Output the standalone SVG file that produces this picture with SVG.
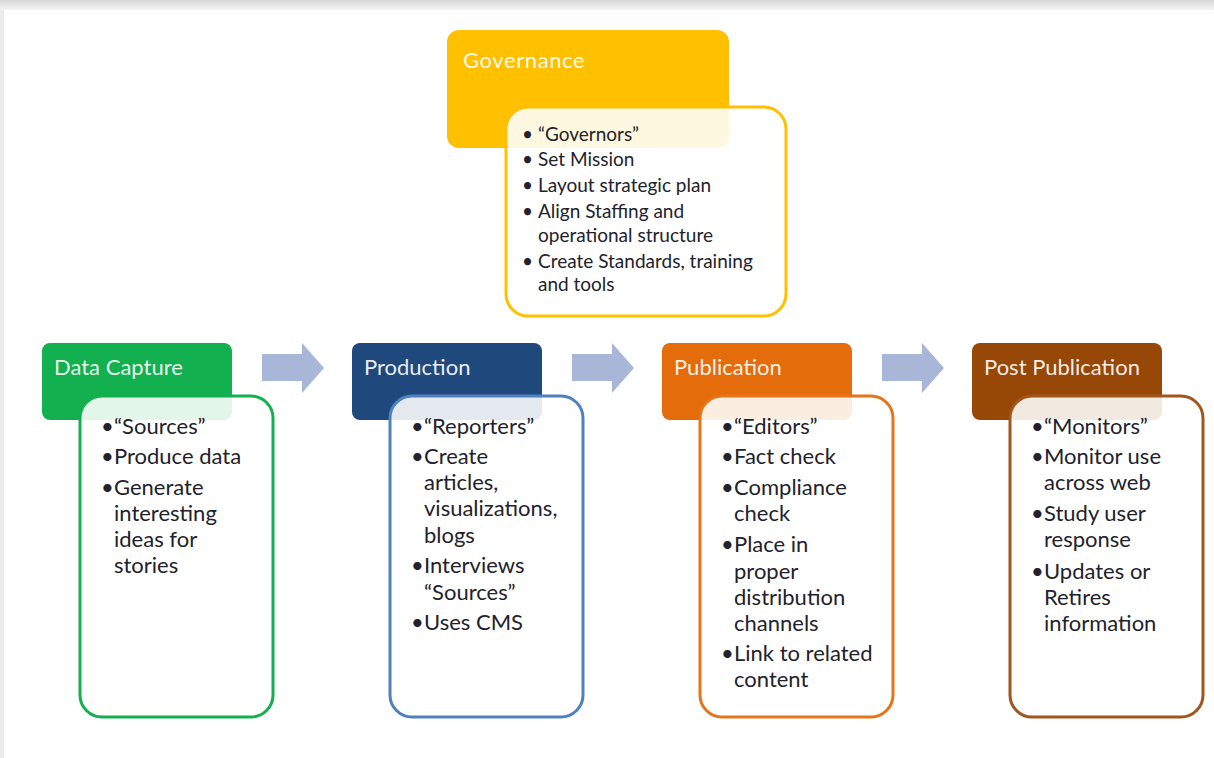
<svg xmlns="http://www.w3.org/2000/svg" width="1214" height="758" viewBox="0 0 1214 758">
<defs>
<linearGradient id="topbar" x1="0" y1="0" x2="0" y2="1">
<stop offset="0" stop-color="#d8d8d8"/>
<stop offset="1" stop-color="#f4f4f4"/>
</linearGradient>
<path id="arrow" d="M0,7 H40 V-4 L62,21 L40,46 V34 H0 Z"/>
</defs>
<style>
.hdr{stroke:none}
.body{fill:#ffffff;fill-opacity:0.88;stroke-width:3}
.ht{font-family:Lato,"Open Sans",sans-serif;fill:#ffffff;fill-opacity:0.92;font-size:22px}
.bt{font-family:Lato,"Open Sans",sans-serif;fill:#22222c;font-size:22px}
.gt{font-family:Lato,"Open Sans",sans-serif;fill:#22222c;font-size:19px}
.arr{fill:#a8b7d7}
</style>
<rect x="0" y="0" width="1214" height="758" fill="#ffffff"/>
<rect x="0" y="0" width="1214" height="10" fill="url(#topbar)"/>
<rect x="0" y="10" width="4" height="748" fill="#ececec"/>

<g id="connectors">
<use href="#arrow" x="262" y="347" class="arr"/>
<use href="#arrow" x="572" y="347" class="arr"/>
<use href="#arrow" x="882" y="347" class="arr"/>
</g>

<g id="governance">
<rect x="447" y="30" width="282" height="118" rx="12" fill="#ffc000" class="hdr"/>
<text x="463" y="68" class="ht" font-size="27" letter-spacing="0.6">Governance</text>
<rect x="506" y="107" width="280" height="209" rx="22" class="body" stroke="#ffc000"/>
<g class="gt">
<text x="522" y="141">•</text><text x="538" y="141">“Governors”</text>
<text x="522" y="166">•</text><text x="538" y="166">Set Mission</text>
<text x="522" y="192">•</text><text x="538" y="192">Layout strategic plan</text>
<text x="522" y="218">•</text><text x="538" y="218">Align Staffing and</text>
<text x="538" y="242">operational structure</text>
<text x="522" y="268">•</text><text x="538" y="268">Create Standards, training</text>
<text x="538" y="291">and tools</text>
</g>
</g>

<g id="data-capture">
<rect x="42" y="343" width="190" height="77" rx="8" fill="#12b04e" class="hdr"/>
<text x="54" y="375" class="ht">Data Capture</text>
<rect x="80" y="396" width="193" height="321" rx="22" class="body" stroke="#12b04e"/>
<g class="bt">
<text x="101" y="434">•</text><text x="114" y="434">“Sources”</text>
<text x="101" y="464">•</text><text x="114" y="464">Produce data</text>
<text x="101" y="495">•</text><text x="114" y="495">Generate</text>
<text x="114" y="521">interesting</text>
<text x="114" y="547">ideas for</text>
<text x="114" y="573">stories</text>
</g>
</g>

<g id="production">
<rect x="352" y="343" width="190" height="77" rx="8" fill="#1f497d" class="hdr"/>
<text x="364" y="375" class="ht">Production</text>
<rect x="390" y="396" width="193" height="321" rx="22" class="body" stroke="#4f81bd"/>
<g class="bt">
<text x="411" y="434">•</text><text x="424" y="434">“Reporters”</text>
<text x="411" y="464">•</text><text x="424" y="464">Create</text>
<text x="424" y="490">articles,</text>
<text x="424" y="516">visualizations,</text>
<text x="424" y="543">blogs</text>
<text x="411" y="573">•</text><text x="424" y="573">Interviews</text>
<text x="424" y="600">“Sources”</text>
<text x="411" y="630">•</text><text x="424" y="630">Uses CMS</text>
</g>
</g>

<g id="publication">
<rect x="662" y="343" width="190" height="77" rx="8" fill="#e46c0a" class="hdr"/>
<text x="674" y="375" class="ht">Publication</text>
<rect x="700" y="396" width="193" height="321" rx="22" class="body" stroke="#e8741a"/>
<g class="bt">
<text x="721" y="434">•</text><text x="734" y="434">“Editors”</text>
<text x="721" y="464">•</text><text x="734" y="464">Fact check</text>
<text x="721" y="495">•</text><text x="734" y="495">Compliance</text>
<text x="734" y="521">check</text>
<text x="721" y="552">•</text><text x="734" y="552">Place in</text>
<text x="734" y="579">proper</text>
<text x="734" y="605">distribution</text>
<text x="734" y="631">channels</text>
<text x="721" y="661">•</text><text x="734" y="661">Link to related</text>
<text x="734" y="687">content</text>
</g>
</g>

<g id="post-publication">
<rect x="972" y="343" width="190" height="77" rx="8" fill="#974806" class="hdr"/>
<text x="984" y="375" class="ht">Post Publication</text>
<rect x="1010" y="396" width="193" height="321" rx="22" class="body" stroke="#a0561c"/>
<g class="bt">
<text x="1031" y="434">•</text><text x="1044" y="434">“Monitors”</text>
<text x="1031" y="464">•</text><text x="1044" y="464">Monitor use</text>
<text x="1044" y="490">across web</text>
<text x="1031" y="521">•</text><text x="1044" y="521">Study user</text>
<text x="1044" y="547">response</text>
<text x="1031" y="579">•</text><text x="1044" y="579">Updates or</text>
<text x="1044" y="605">Retires</text>
<text x="1044" y="631">information</text>
</g>
</g>
</svg>
